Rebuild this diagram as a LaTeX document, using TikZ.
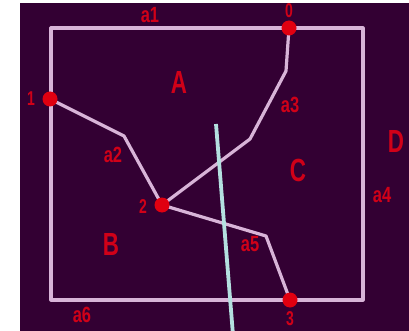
\documentclass[tikz,border=0pt]{standalone}
\usepackage{fontspec}
\setmainfont{Liberation Sans}
\definecolor{bgpurple}{HTML}{330033}
\definecolor{edgepink}{HTML}{D8B4D8}
\definecolor{dotred}{HTML}{E00010}
\definecolor{txtred}{HTML}{D00018}
\definecolor{cyanline}{HTML}{B4E0E0}
\tikzset{
  edge/.style={draw=edgepink,line width=3.2pt,line join=round},
  vdot/.style={circle,fill=dotred,inner sep=0pt,minimum size=15pt},
  bigl/.style={text=txtred,font=\bfseries\fontsize{32}{32}\selectfont,xscale=0.7,inner sep=0pt},
  smalll/.style={text=txtred,font=\bfseries\fontsize{22}{22}\selectfont,xscale=0.75,inner sep=0pt},
  vlab/.style={text=txtred,font=\bfseries\fontsize{20}{20}\selectfont,xscale=0.7,inner sep=0pt},
}
\begin{document}
\begin{tikzpicture}[x=1pt,y=-1pt]
\useasboundingbox (0,0) rectangle (409,331);
\fill[white] (0,0) rectangle (409,331);
\fill[bgpurple] (20,3) rectangle (409,331);
% outer box
\coordinate (tl) at (51,28);
\coordinate (tr) at (363,28);
\coordinate (br) at (363,300);
\coordinate (bl) at (51,300);
\draw[edge] (tl) -- (tr) -- (br) -- (bl) -- cycle;
% vertices
\coordinate (v0) at (289,28);
\coordinate (v1) at (50,99);
\coordinate (v2) at (162,205);
\coordinate (v3) at (290,300);
\coordinate (p0a) at (286,71);
\coordinate (p0b) at (250,139);
\coordinate (p1a) at (124,136);
\coordinate (p2a) at (266,236);
\draw[edge] (v0) -- (p0a) -- (p0b) -- (v2);
\draw[edge] (v1) -- (p1a) -- (v2);
\draw[edge] (v2) -- (p2a) -- (v3);
\node[vdot] (n0) at (v0) {};
\node[vdot] (n1) at (v1) {};
\node[vdot] (n2) at (v2) {};
\node[vdot] (n3) at (v3) {};
% cyan line
\coordinate (c1) at (216,124);
\coordinate (c2) at (233,335);
\draw[cyanline,line width=3.8pt] (c1) -- (c2);
% vertex labels
\node[vlab] (l0) at (289,11) {0};
\node[vlab] (l1) at (31,99) {1};
\node[vlab] (l2) at (143,207) {2};
\node[vlab] (l3) at (290,319) {3};
% region labels
\node[bigl] (rA) at (179,82) {A};
\node[bigl] (rB) at (111,244) {B};
\node[bigl] (rC) at (298,170) {C};
\node[bigl] (rD) at (396,141) {D};
% edge labels
\node[smalll] (a1) at (150,15) {a1};
\node[smalll] (a2) at (113,155) {a2};
\node[smalll] (a3) at (290,105) {a3};
\node[smalll] (a4) at (382,195) {a4};
\node[smalll] (a5) at (250,244) {a5};
\node[smalll] (a6) at (82,315) {a6};
\end{tikzpicture}
\end{document}
